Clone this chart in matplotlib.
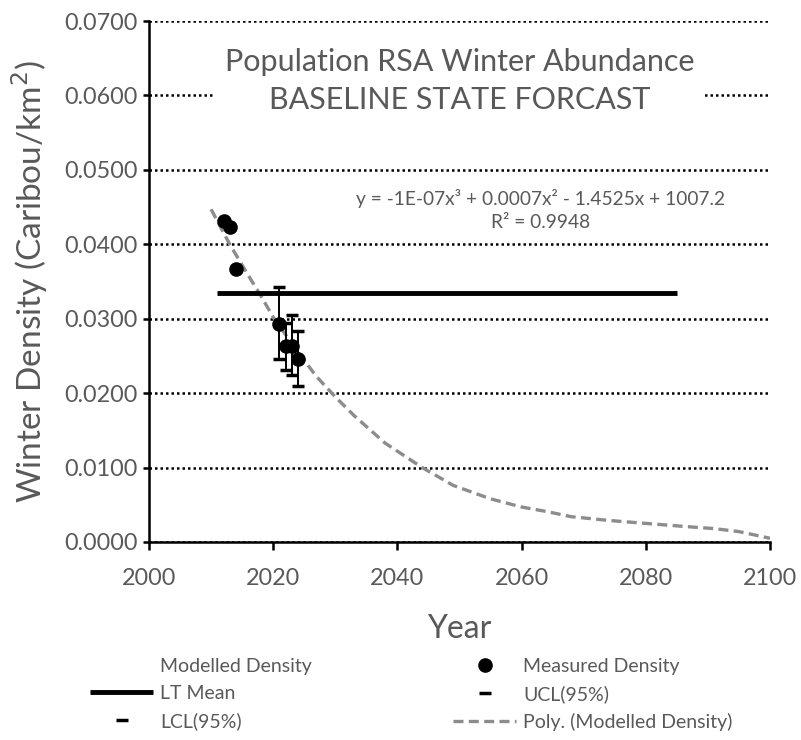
import matplotlib
matplotlib.use("Agg")
import matplotlib.pyplot as plt
from matplotlib.lines import Line2D
import matplotlib.ticker as mticker

plt.rcParams['font.family'] = ['Lato', 'DejaVu Sans']

# Measured winter density with 95% confidence limits
measured_years = [2012, 2013, 2014, 2021, 2022, 2023, 2024]
measured_density = [0.0431, 0.0423, 0.0367, 0.0293, 0.0263, 0.0264, 0.0246]
ci_years = [2021, 2022, 2023, 2024]
ucl = [0.0342, 0.0294, 0.0305, 0.0284]
lcl = [0.0246, 0.0231, 0.0224, 0.0209]

# Long-term mean
lt_mean_years = [2011, 2085]
lt_mean_value = 0.0334

# Polynomial trend of modelled density
trend_years = [2010, 2013, 2016, 2018, 2020, 2024, 2027, 2030, 2033, 2038, 2044,
               2049, 2055, 2060, 2064, 2068, 2074, 2080, 2086, 2091, 2095, 2100]
trend_density = [0.0447, 0.0400, 0.0358, 0.0331, 0.0302, 0.0255, 0.0222, 0.0195,
                 0.0170, 0.0133, 0.0100, 0.0076, 0.0058, 0.0047, 0.0041, 0.0034,
                 0.0029, 0.0025, 0.0021, 0.0018, 0.0014, 0.0005]

x_ticks = [2000, 2020, 2040, 2060, 2080, 2100]
y_ticks = [0.0, 0.01, 0.02, 0.03, 0.04, 0.05, 0.06, 0.07]

GRAY = '#595959'

fig = plt.figure(figsize=(8.01, 7.40), dpi=100)
ax = fig.add_axes([149 / 801, 198 / 740, 621 / 801, 521 / 740])

ax.set_xlim(2000, 2100)
ax.set_ylim(0, 0.07)

# dotted horizontal gridlines
ax.yaxis.grid(True, linestyle=(0, (1, 1.2)), color='black', linewidth=1.8)
ax.xaxis.grid(False)
ax.set_axisbelow(True)

trend, = ax.plot(trend_years, trend_density, linestyle=(0, (3, 1.6)),
                 color='#8c8c8c', linewidth=2.4, zorder=3)
lt, = ax.plot(lt_mean_years, [lt_mean_value] * 2, color='black', linewidth=3.5,
              solid_capstyle='butt', zorder=3)

ax.vlines(ci_years, lcl, ucl, color='black', linewidth=1.4, zorder=4)
ucl_h, = ax.plot(ci_years, ucl, linestyle='none', marker='_', markersize=9,
                 markeredgewidth=2.5, color='black', zorder=4)
lcl_h, = ax.plot(ci_years, lcl, linestyle='none', marker='_', markersize=9,
                 markeredgewidth=2.5, color='black', zorder=4)
meas, = ax.plot(measured_years, measured_density, linestyle='none', marker='o',
                markersize=9.5, color='black', zorder=5)

for side in ('top', 'right'):
    ax.spines[side].set_visible(False)
for side in ('left', 'bottom'):
    ax.spines[side].set_linewidth(1.8)
    ax.spines[side].set_color('black')

ax.set_xticks(x_ticks)
ax.set_yticks(y_ticks)
ax.yaxis.set_major_formatter(mticker.FormatStrFormatter('%.4f'))
ax.tick_params(axis='both', direction='out', width=1.8,
               labelsize=16.8, labelcolor=GRAY, color='black')
ax.tick_params(axis='y', length=4.5, pad=3.5)
ax.tick_params(axis='x', length=6, pad=13)

ax.set_xlabel('Year', fontsize=23, color=GRAY, labelpad=18)
ax.set_ylabel('Winter Density (Caribou/km$^2$)', fontsize=24, color=GRAY, labelpad=10)

ax.text(0.5, 0.885, 'Population RSA Winter Abundance\nBASELINE STATE FORCAST',
        transform=ax.transAxes, ha='center', va='center', fontsize=22,
        color=GRAY, linespacing=1.45,
        bbox=dict(facecolor='white', edgecolor='none', pad=8), zorder=6)

ax.text(0.63, 0.6375, 'y = -1E-07x³ + 0.0007x² - 1.4525x + 1007.2\nR² = 0.9948',
        transform=ax.transAxes, ha='center', va='center', fontsize=13.8,
        color=GRAY, linespacing=1.45, zorder=6)

modelled = Line2D([], [], linestyle='none')
handles = [modelled, lt, lcl_h, meas, ucl_h, trend]
labels = ['Modelled Density', 'LT Mean', 'LCL(95%)', 'Measured Density',
          'UCL(95%)', 'Poly. (Modelled Density)']
fig.legend(handles, labels, ncol=2, loc='upper left',
           bbox_to_anchor=(90 / 801, 1 - 658 / 740), frameon=False,
           fontsize=14, labelcolor=GRAY, handlelength=3.25, handletextpad=0.36,
           columnspacing=7.25, labelspacing=0.51, borderpad=0, borderaxespad=0,
           numpoints=1)

fig.savefig('out.png', dpi=100)
